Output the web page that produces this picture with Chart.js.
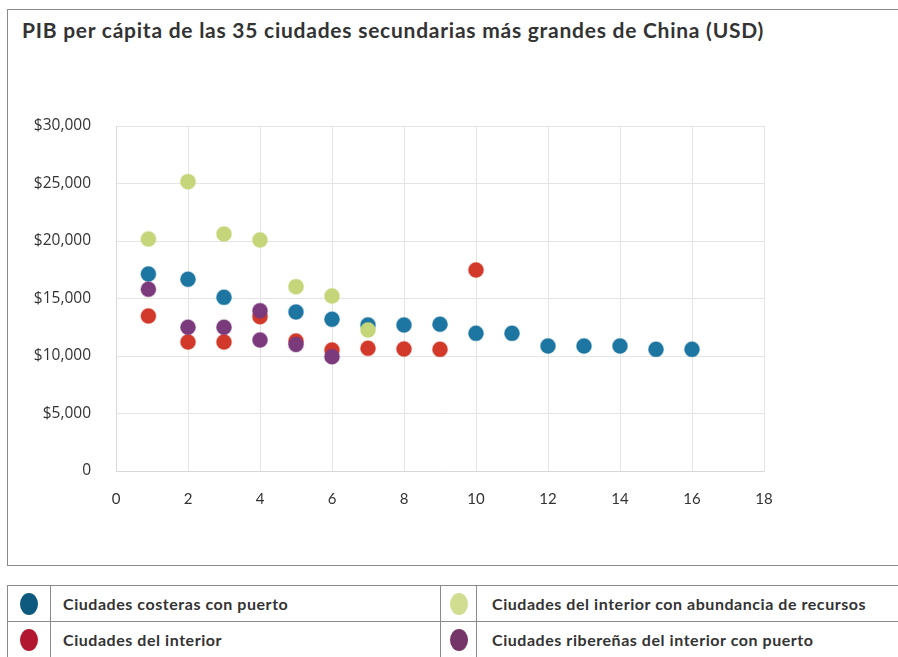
<!DOCTYPE html>
<html>
<head>
<meta charset="utf-8">
<script src="https://cdn.jsdelivr.net/npm/chart.js@4.4.1/dist/chart.umd.min.js"></script>
<style>
  html,body{margin:0;padding:0;background:#fff;width:898px;height:657px;overflow:hidden;font-family:"Lato",sans-serif;}
  #frame{position:absolute;left:7px;top:9px;width:900px;height:555px;border-left:1px solid #8a8a8a;border-top:1px solid #8a8a8a;border-bottom:1px solid #8a8a8a;}
  #title{position:absolute;left:22px;top:17px;font-size:21px;font-weight:bold;color:#333;white-space:nowrap;letter-spacing:0.75px;}
  #wrap{position:absolute;left:0;top:0;width:898px;height:565px;}
  #legend{position:absolute;left:7px;top:585px;border-collapse:collapse;table-layout:fixed;width:900px;}
  #legend td{border:1px solid #8a8a8a;height:35px;padding:0;font-size:16px;font-weight:bold;color:#333;letter-spacing:0.55px;white-space:nowrap;overflow:hidden;}
  #legend td.ic{text-align:center;}
  #legend td.tx{padding-left:12px;}
  #legend td.tx2{padding-left:15px;}
  .dot{display:inline-block;width:18px;height:22px;border-radius:50%;vertical-align:middle;}
</style>
</head>
<body>
<div id="frame"></div>
<div id="title">PIB per cápita de las 35 ciudades secundarias más grandes de China (USD)</div>
<div id="wrap"><canvas id="c" width="898" height="565"></canvas></div>
<table id="legend">
  <colgroup><col style="width:43px"><col style="width:390px"><col style="width:36px"><col style="width:431px"></colgroup>
  <tr>
    <td class="ic"><span class="dot" style="background:#0d5a7e"></span></td>
    <td class="tx">Ciudades costeras con puerto</td>
    <td class="ic"><span class="dot" style="background:#d1de92"></span></td>
    <td class="tx tx2">Ciudades del interior con abundancia de recursos</td>
  </tr>
  <tr>
    <td class="ic"><span class="dot" style="background:#b11730"></span></td>
    <td class="tx">Ciudades del interior</td>
    <td class="ic"><span class="dot" style="background:#763568"></span></td>
    <td class="tx tx2">Ciudades ribereñas del interior con puerto</td>
  </tr>
</table>
<script>
const seriesNames = ["Ciudades costeras con puerto","Ciudades del interior","Ciudades del interior con abundancia de recursos","Ciudades ribereñas del interior con puerto"];
const coastalX = [0.9,2,3,5,6,7,8,9,10,11,12,13,14,15,16];
const coastalY = [17130,16670,15100,13830,13190,12700,12700,12760,11970,11970,10870,10870,10870,10580,10580];
const interiorX = [0.9,2,3,4,5,6,7,8,9,10];
const interiorY = [13480,11220,11220,13420,11300,10520,10670,10610,10580,17480];
const resourceX = [0.9,2,3,4,5,6,7];
const resourceY = [20170,25160,20610,20090,16030,15220,12260];
const riverX = [0.9,2,3,4,4,5,6];
const riverY = [15800,12500,12500,13940,11390,11000,9940];
const xTicks = [0,2,4,6,8,10,12,14,16,18];
const yTicks = [0,5000,10000,15000,20000,25000,30000];

function pts(xs, ys){ return xs.map((x,i)=>({x:x,y:ys[i]})); }
function ds(label, xs, ys, color, halo){
  return {label:label,data:pts(xs,ys),backgroundColor:color,borderColor:halo,borderWidth:1.5,pointRadius:7.5,pointHoverRadius:7.5};
}
new Chart(document.getElementById('c'),{
  type:'scatter',
  data:{datasets:[
    ds(seriesNames[3], riverX, riverY, '#7a3a7c', 'rgba(122,58,124,0.35)'),
    ds(seriesNames[2], resourceX, resourceY, '#c5d67a', 'rgba(197,214,122,0.4)'),
    ds(seriesNames[1], interiorX, interiorY, '#d2392a', 'rgba(210,57,42,0.35)'),
    ds(seriesNames[0], coastalX, coastalY, '#1c76a1', 'rgba(28,118,161,0.35)')
  ]},
  options:{
    responsive:false,animation:false,
    layout:{padding:{left:0,right:134,top:126,bottom:44}},
    plugins:{legend:{display:false},tooltip:{enabled:false}},
    scales:{
      x:{type:'linear',min:0,max:18,
        afterBuildTicks:s=>{s.ticks=xTicks.map(v=>({value:v}));},
        afterFit:s=>{s.height=50;},
        grid:{color:'#e4e4e4',drawTicks:false},
        border:{color:'#d8d8d8'},
        ticks:{padding:19,color:'#333',font:{family:'Lato',size:15},maxRotation:0}},
      y:{type:'linear',min:0,max:30000,
        afterBuildTicks:s=>{s.ticks=yTicks.map(v=>({value:v}));},
        afterFit:s=>{s.width=116;},
        grid:{color:'#e4e4e4',drawTicks:false},
        border:{color:'#d8d8d8'},
        ticks:{padding:25,color:'#333',font:{family:'Open Sans',size:15.5},
          callback:v=> v===0 ? '0' : '$'+v.toLocaleString('en-US')}}
    }
  }
});
</script>
</body>
</html>
